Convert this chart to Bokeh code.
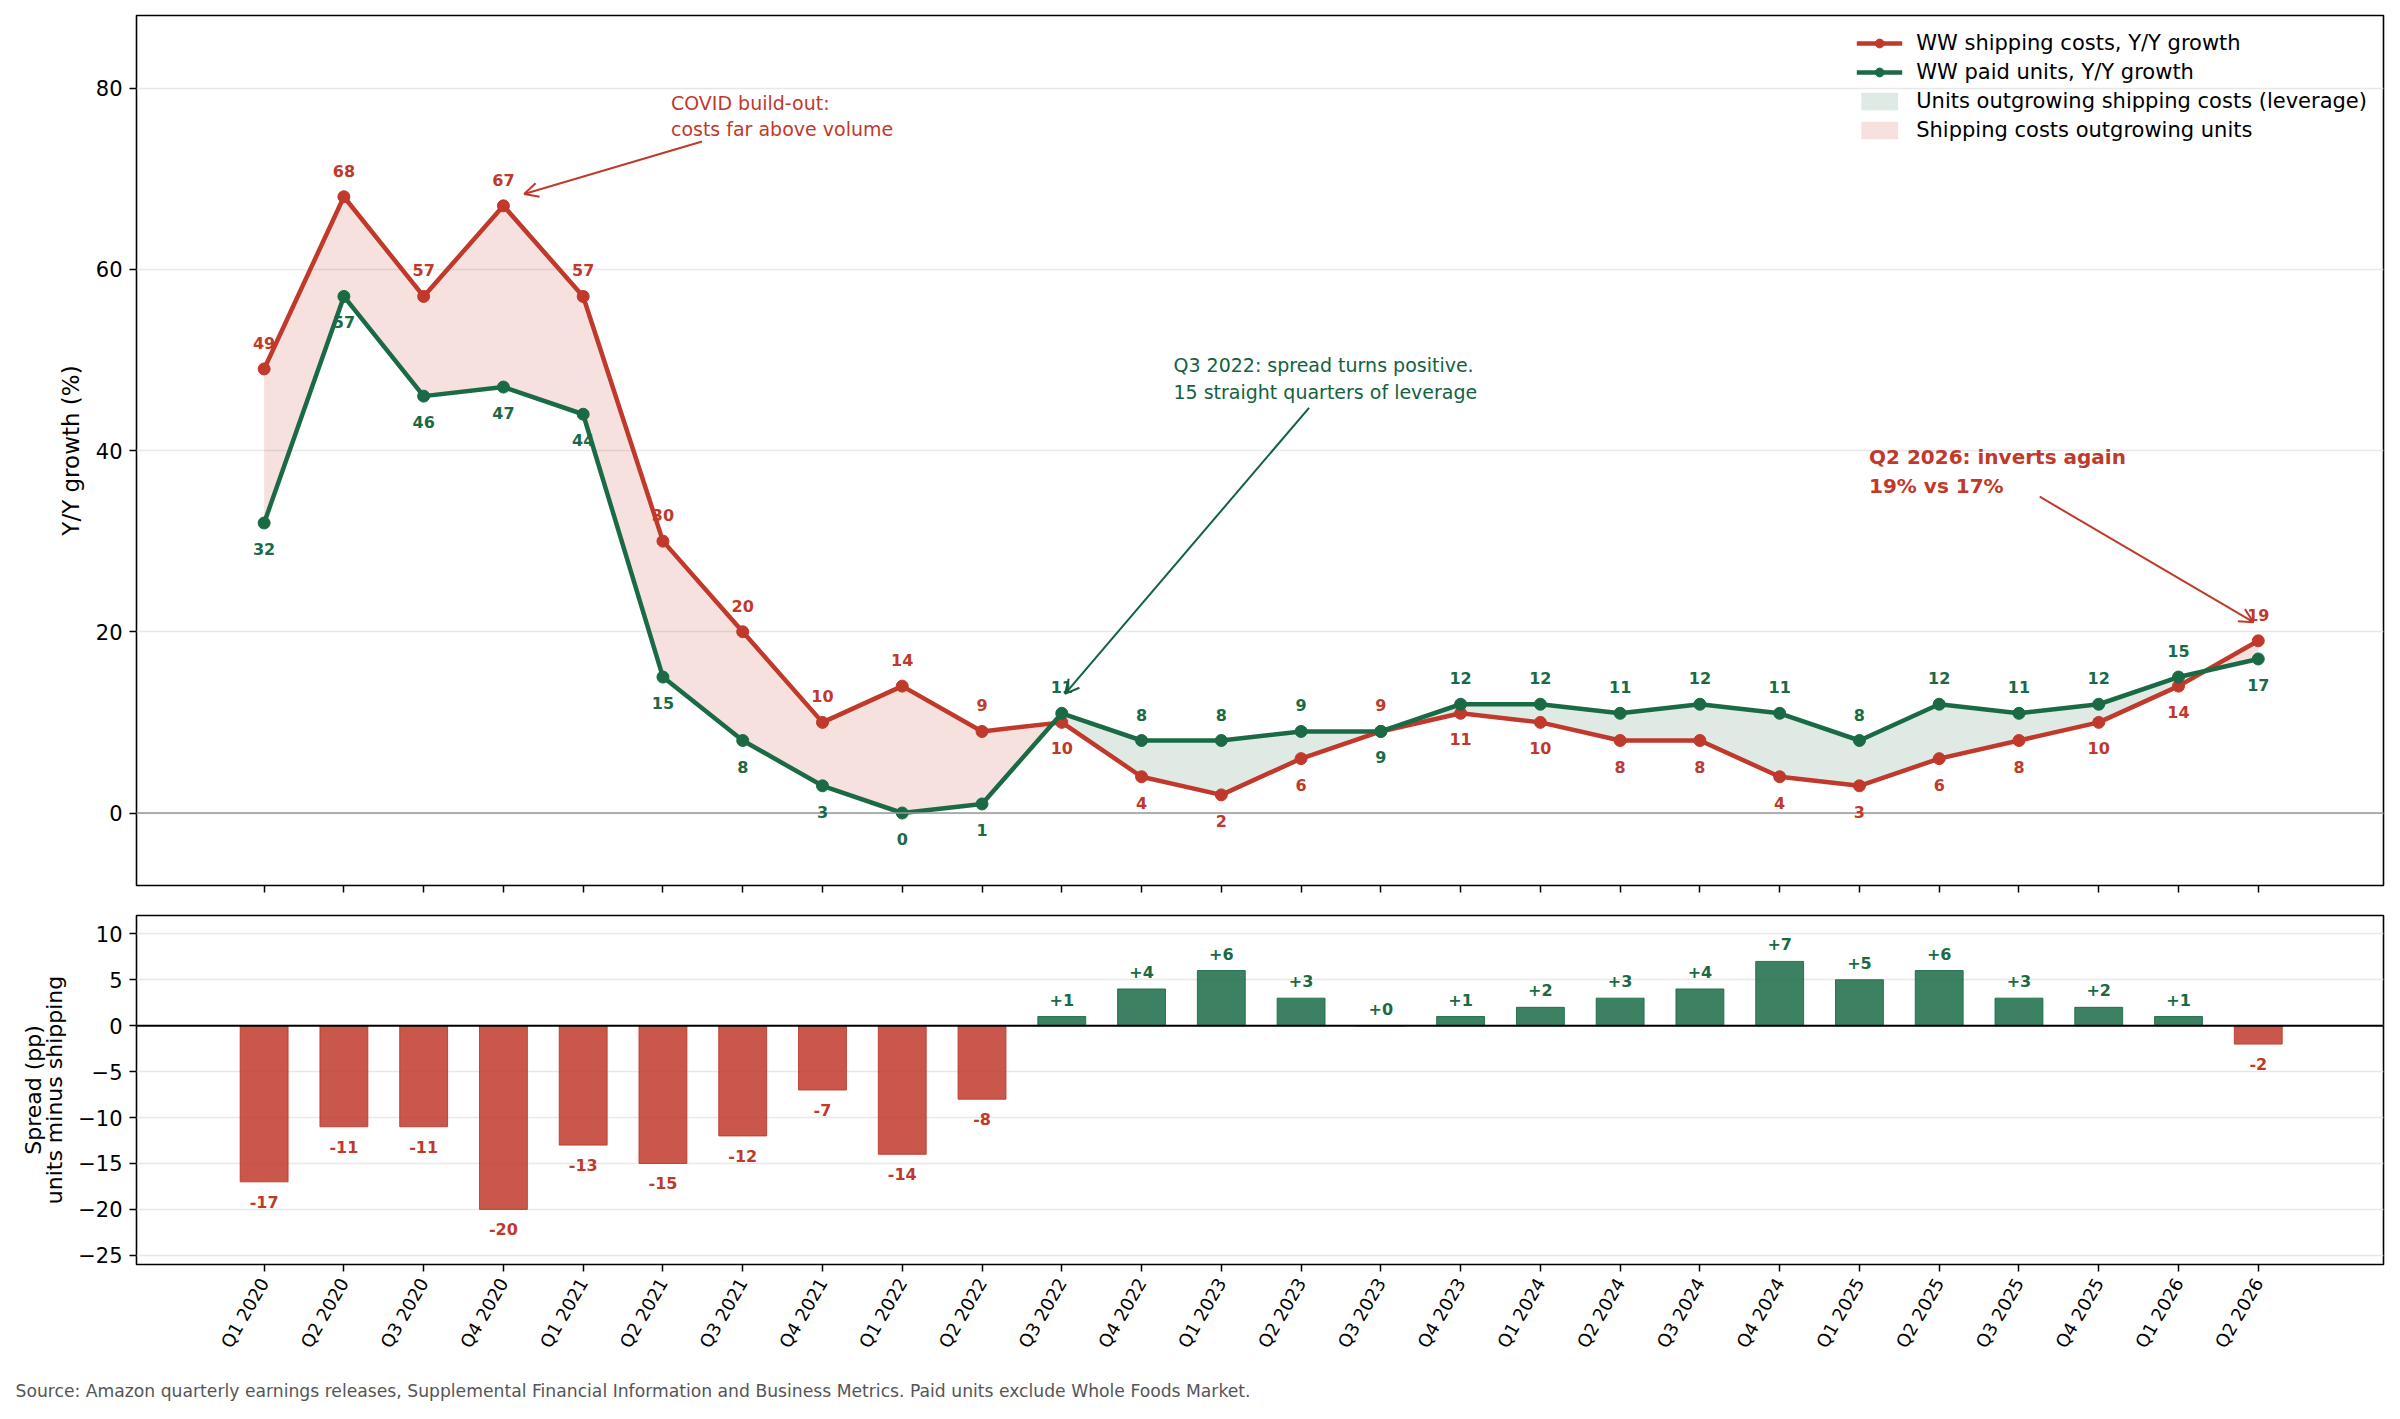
import math
from bokeh.plotting import figure
from bokeh.layouts import column
from bokeh.models import (ColumnDataSource, Range1d, FixedTicker, Span, Label, LabelSet,
                          Arrow, OpenHead, Legend, LegendItem, Title, LinearAxis)
from bokeh.core.properties import value
from bokeh.embed import file_html
from bokeh.resources import INLINE

# ---------------- data ----------------
quarters = ["Q1 2020", "Q2 2020", "Q3 2020", "Q4 2020",
            "Q1 2021", "Q2 2021", "Q3 2021", "Q4 2021",
            "Q1 2022", "Q2 2022", "Q3 2022", "Q4 2022",
            "Q1 2023", "Q2 2023", "Q3 2023", "Q4 2023",
            "Q1 2024", "Q2 2024", "Q3 2024", "Q4 2024",
            "Q1 2025", "Q2 2025", "Q3 2025", "Q4 2025",
            "Q1 2026", "Q2 2026"]
shipping_growth = [49, 68, 57, 67, 57, 30, 20, 10, 14, 9, 10, 4, 2, 6, 9, 11,
                   10, 8, 8, 4, 3, 6, 8, 10, 14, 19]
units_growth = [32, 57, 46, 47, 44, 15, 8, 3, 0, 1, 11, 8, 8, 9, 9, 12,
                12, 11, 12, 11, 8, 12, 11, 12, 15, 17]
spread_pp = [-17, -11, -11, -20, -13, -15, -12, -7, -14, -8, 1, 4, 6, 3, 0, 1,
             2, 3, 4, 7, 5, 6, 3, 2, 1, -2]

top_yticks = [0, 20, 40, 60, 80]
bottom_yticks = [-25, -20, -15, -10, -5, 0, 5, 10]

source_note = ("Source: Amazon quarterly earnings releases, Supplemental Financial Information "
               "and Business Metrics. Paid units exclude Whole Foods Market.")

# ---------------- styles ----------------
RED = "#c0392b"
GREEN = "#1a6b45"
GREEN_TXT = "#12613f"
FONT = "DejaVu Sans"
W = 2392

xs = list(range(len(quarters)))
x_range = Range1d(-1.6, 26.57)


def style_axes(fig):
    fig.outline_line_color = "black"
    fig.outline_line_width = 1.6
    fig.outline_line_alpha = 1
    fig.xgrid.visible = False
    fig.ygrid.grid_line_color = "#e8e8e8"
    fig.ygrid.grid_line_width = 1.5
    for ax in fig.xaxis + fig.yaxis:
        ax.axis_line_color = None
        ax.major_tick_line_color = "black"
        ax.major_tick_line_width = 1.5
        ax.major_tick_out = 7
        ax.major_tick_in = 0
        ax.minor_tick_line_color = None
        ax.major_label_text_font = FONT
        ax.major_label_text_color = "black"
        ax.axis_label_text_font = FONT
        ax.axis_label_text_font_style = "normal"
        ax.axis_label_text_color = "black"
    fig.background_fill_color = "white"
    fig.border_fill_color = "white"


# ---------------- top panel ----------------
p = figure(width=W, height=900, x_range=x_range, y_range=Range1d(-8, 88),
           output_backend="svg", toolbar_location=None,
           min_border_left=136, min_border_right=9, min_border_top=15, min_border_bottom=15)
style_axes(p)
p.yaxis.ticker = FixedTicker(ticks=top_yticks)
p.yaxis.major_label_text_font_size = "21px"
p.yaxis.major_label_standoff = 7
p.yaxis.axis_label = "Y/Y growth (%)"
p.yaxis.axis_label_text_font_size = "23px"
p.yaxis.axis_label_standoff = 9
p.xaxis.ticker = FixedTicker(ticks=xs)
p.xaxis.major_label_overrides = {i: "" for i in xs}
p.xaxis.major_label_text_font_size = "0px"
p.xaxis.major_label_standoff = 0

# fill areas between the two lines (split at crossings)
fx, fs, fu = [], [], []
for i in range(len(xs)):
    fx.append(xs[i]); fs.append(shipping_growth[i]); fu.append(units_growth[i])
    if i < len(xs) - 1:
        d0 = shipping_growth[i] - units_growth[i]
        d1 = shipping_growth[i + 1] - units_growth[i + 1]
        if d0 * d1 < 0:
            t = d0 / (d0 - d1)
            yc = shipping_growth[i] + t * (shipping_growth[i + 1] - shipping_growth[i])
            fx.append(xs[i] + t); fs.append(yc); fu.append(yc)
fill_src = ColumnDataSource(dict(
    x=fx, ship=fs, units=fu,
    top=[max(a, b) for a, b in zip(fs, fu)],
))
red_area = p.varea(x="x", y1="units", y2="top", source=fill_src,
                   fill_color=RED, fill_alpha=0.15)
green_area = p.varea(x="x", y1="ship", y2="top", source=fill_src,
                     fill_color=GREEN, fill_alpha=0.14)

p.add_layout(Span(location=0, dimension="width", line_color="#999999", line_width=1.5))

src = ColumnDataSource(dict(x=xs, ship=shipping_growth, units=units_growth))
red_line = p.line("x", "ship", source=src, line_color=RED, line_width=4.5)
red_pts = p.scatter("x", "ship", source=src, size=12, fill_color=RED, line_color=RED)
green_line = p.line("x", "units", source=src, line_color=GREEN, line_width=4.5)
green_pts = p.scatter("x", "units", source=src, size=12, fill_color=GREEN, line_color=GREEN)

lab_src = ColumnDataSource(dict(
    x=xs,
    ship=shipping_growth,
    units=units_growth,
    ship_txt=[str(v) for v in shipping_growth],
    units_txt=[str(v) for v in units_growth],
    ship_off=[26 if s >= u else -26 for s, u in zip(shipping_growth, units_growth)],
    units_off=[26 if u > s else -26 for s, u in zip(shipping_growth, units_growth)],
))
p.add_layout(LabelSet(x="x", y="ship", text="ship_txt", y_offset="ship_off", source=lab_src,
                      text_align="center", text_baseline="middle", text_color=RED,
                      text_font=value(FONT), text_font_style="bold", text_font_size="16px"))
p.add_layout(LabelSet(x="x", y="units", text="units_txt", y_offset="units_off", source=lab_src,
                      text_align="center", text_baseline="middle", text_color=GREEN,
                      text_font=value(FONT), text_font_style="bold", text_font_size="16px"))

# annotations
p.add_layout(Label(x=5.1, y=79.6, text="COVID build-out:\ncosts far above volume",
                   text_font=FONT, text_font_size="19px", text_color=RED,
                   text_baseline="top", text_align="left"))
p.add_layout(Arrow(end=OpenHead(size=14, line_color=RED, line_width=2),
                   x_start=5.49, y_start=74.1, x_end=3.26, y_end=68.3,
                   line_color=RED, line_width=2))

p.add_layout(Label(x=11.4, y=50.6, text="Q3 2022: spread turns positive.\n15 straight quarters of leverage",
                   text_font=FONT, text_font_size="19px", text_color=GREEN_TXT,
                   text_baseline="top", text_align="left"))
p.add_layout(Arrow(end=OpenHead(size=14, line_color=GREEN_TXT, line_width=2),
                   x_start=13.1, y_start=44.7, x_end=10.04, y_end=13.15,
                   line_color=GREEN_TXT, line_width=2))

p.add_layout(Label(x=20.12, y=40.6, text="Q2 2026: inverts again\n19% vs 17%",
                   text_font=FONT, text_font_size="20px", text_font_style="bold",
                   text_color=RED, text_baseline="top", text_align="left"))
p.add_layout(Arrow(end=OpenHead(size=14, line_color=RED, line_width=2),
                   x_start=22.26, y_start=34.9, x_end=24.94, y_end=21.05,
                   line_color=RED, line_width=2))

legend = Legend(items=[
    LegendItem(label="WW shipping costs, Y/Y growth", renderers=[red_line, red_pts]),
    LegendItem(label="WW paid units, Y/Y growth", renderers=[green_line, green_pts]),
    LegendItem(label="Units outgrowing shipping costs (leverage)", renderers=[green_area]),
    LegendItem(label="Shipping costs outgrowing units", renderers=[red_area]),
], location="top_right")
legend.label_text_font = FONT
legend.label_text_font_size = "21px"
legend.label_text_color = "black"
legend.border_line_color = None
legend.background_fill_alpha = 0
legend.glyph_width = 46
legend.glyph_height = 22
legend.label_height = 22
legend.label_standoff = 14
legend.spacing = 5
legend.padding = 8
legend.margin = 16
p.add_layout(legend)

# ---------------- bottom panel ----------------
p2 = figure(width=W, height=519, x_range=x_range, y_range=Range1d(-26, 12),
            output_backend="svg", toolbar_location=None,
            min_border_left=136, min_border_right=9, min_border_top=15, min_border_bottom=155)
style_axes(p2)
p2.yaxis.ticker = FixedTicker(ticks=bottom_yticks)
p2.yaxis.major_label_overrides = {t: ("\u2212" + str(abs(t)) if t < 0 else str(t)) for t in bottom_yticks}
p2.yaxis.major_label_text_font_size = "21px"
p2.yaxis.major_label_standoff = 7
p2.yaxis.axis_label = "units minus shipping"
p2.yaxis.axis_label_text_font_size = "22px"
p2.yaxis.axis_label_standoff = 8

# second (outer) label line as an extra tick-less axis
outer = LinearAxis(ticker=FixedTicker(ticks=[]), axis_label="Spread (pp)")
outer.axis_line_color = None
outer.major_tick_out = 0
outer.major_tick_in = 0
outer.minor_tick_line_color = None
outer.major_label_text_font_size = "0px"
outer.major_label_standoff = 0
outer.axis_label_text_font = FONT
outer.axis_label_text_font_style = "normal"
outer.axis_label_text_font_size = "22px"
outer.axis_label_text_color = "black"
outer.axis_label_standoff = -6
p2.add_layout(outer, "left")

p2.xaxis.ticker = FixedTicker(ticks=xs)
p2.xaxis.major_label_overrides = {i: q for i, q in zip(xs, quarters)}
p2.xaxis.major_label_orientation = math.pi / 3
p2.xaxis.major_label_text_font_size = "18px"
p2.xaxis.major_label_standoff = 8

bar_src = ColumnDataSource(dict(
    x=xs, spread=spread_pp,
    color=[GREEN if v >= 0 else RED for v in spread_pp],
    txt=[("+%d" % v) if v >= 0 else ("-%d" % abs(v)) for v in spread_pp],
    off=[17 if v >= 0 else -20 for v in spread_pp],
))
p2.vbar(x="x", top="spread", bottom=0, width=0.6, source=bar_src,
        fill_color="color", fill_alpha=0.85, line_color="color", line_alpha=0.9, line_width=1)
p2.add_layout(Span(location=0, dimension="width", line_color="black", line_width=2))
p2.add_layout(LabelSet(x="x", y="spread", text="txt", y_offset="off", source=bar_src,
                       text_align="center", text_baseline="middle", text_color="color",
                       text_font=value(FONT), text_font_style="bold", text_font_size="16px"))

note = Title(text=source_note, align="left", text_font=FONT, text_font_size="17.2px",
             text_font_style="normal", text_color="#555555", offset=-121, standoff=38)
p2.add_layout(note, "below")

layout = column(p, p2, spacing=0)
open("out.html", "w").write(file_html(layout, INLINE))
